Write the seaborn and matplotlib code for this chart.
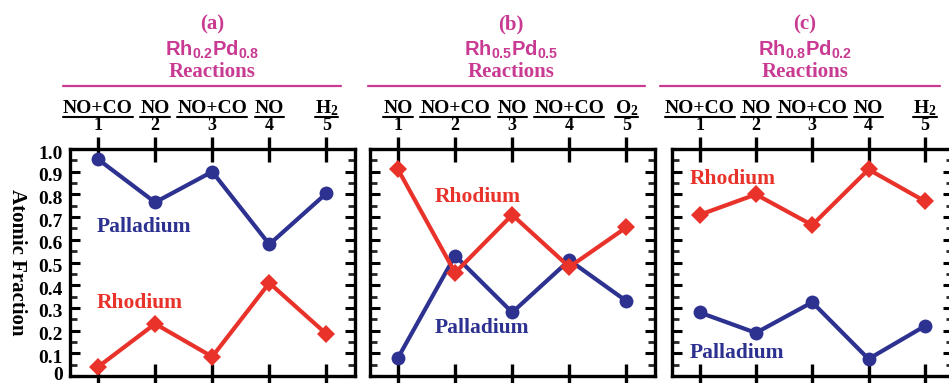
import numpy as np
import pandas as pd
import matplotlib
matplotlib.use("Agg")
import matplotlib.pyplot as plt
import matplotlib.transforms as mtransforms
from matplotlib.lines import Line2D
from matplotlib.ticker import MultipleLocator, FixedLocator, FixedFormatter
import seaborn as sns

# ---------------- data ----------------
steps = [1, 2, 3, 4, 5]
panel_ids = ["(a)", "(b)", "(c)"]
panel_alloys = [r"$\mathbf{Rh_{0.2}Pd_{0.8}}$", r"$\mathbf{Rh_{0.5}Pd_{0.5}}$", r"$\mathbf{Rh_{0.8}Pd_{0.2}}$"]
reactions_a = ["NO+CO", "NO", "NO+CO", "NO", r"$\mathrm{H_2}$"]
reactions_b = ["NO", "NO+CO", "NO", "NO+CO", r"$\mathrm{O_2}$"]
reactions_c = ["NO+CO", "NO", "NO+CO", "NO", r"$\mathrm{H_2}$"]

pd_a = [0.955, 0.765, 0.90, 0.58, 0.805]
rh_a = [0.04, 0.23, 0.085, 0.41, 0.185]
pd_b = [0.08, 0.53, 0.28, 0.51, 0.33]
rh_b = [0.91, 0.455, 0.71, 0.48, 0.655]
pd_c = [0.28, 0.19, 0.325, 0.075, 0.22]
rh_c = [0.71, 0.80, 0.665, 0.91, 0.77]

ytick_vals = [0, 0.1, 0.2, 0.3, 0.4, 0.5, 0.6, 0.7, 0.8, 0.9, 1.0]
ytick_labels = ["0", "0.1", "0.2", "0.3", "0.4", "0.5", "0.6", "0.7", "0.8", "0.9", "1.0"]

# ---------------- style ----------------
sns.set_theme(style="white")
SERIF = ["Liberation Serif", "DejaVu Serif"]
plt.rcParams["font.family"] = SERIF
plt.rcParams["font.serif"] = ["Liberation Serif"]
plt.rcParams["font.weight"] = "bold"
plt.rcParams["mathtext.fontset"] = "custom"
plt.rcParams["mathtext.rm"] = "Liberation Serif:bold"
plt.rcParams["mathtext.bf"] = "Liberation Sans:bold"
plt.rcParams["mathtext.it"] = "Liberation Serif:bold"

MAG = "#c93a92"
RED = "#e8322a"
BLUE = "#2d3190"

W, H = 949, 383
fig = plt.figure(figsize=(W / 100, H / 100), dpi=100)
fig.patch.set_facecolor("white")


def fx(x):
    return x / W


def fy(y):
    return 1 - y / H


# axes boxes in pixels: left, right
boxes = [(70, 355), (370, 655), (672, 953)]
top_px, bot_px = 149, 376
title_cx = [212, 511, 805]
line_ext = [(63, 341), (368, 645), (660, 940)]
labels_pos = [
    # (pd_x, pd_y, rh_x, rh_y) in data coords, left-aligned
    (0.97, 0.655, 0.97, 0.32),
    (1.65, 0.21, 1.65, 0.79),
    (0.83, 0.10, 0.83, 0.87),
]
reaction_sets = [reactions_a, reactions_b, reactions_c]
pd_sets = [pd_a, pd_b, pd_c]
rh_sets = [rh_a, rh_b, rh_c]

reaction_texts = []
axes = []
for i in range(3):
    l, r = boxes[i]
    ax = fig.add_axes([fx(l), fy(bot_px), (r - l) / W, (bot_px - top_px) / H])
    axes.append(ax)
    dfp = pd.DataFrame({"step": steps, "frac": pd_sets[i]})
    dfr = pd.DataFrame({"step": steps, "frac": rh_sets[i]})
    sns.lineplot(data=dfp, x="step", y="frac", ax=ax, color=BLUE, linewidth=3.0,
                 marker="o", markersize=10, markeredgewidth=0, markeredgecolor=BLUE)
    sns.lineplot(data=dfr, x="step", y="frac", ax=ax, color=RED, linewidth=3.0,
                 marker="D", markersize=9, markeredgewidth=0, markeredgecolor=RED)
    ax.set_xlim(0.51, 5.5)
    ax.set_ylim(0, 1.0)
    ax.set_xlabel("")
    ax.set_ylabel("")
    for sp in ax.spines.values():
        sp.set_visible(True)
        sp.set_color("black")
        sp.set_linewidth(2.4)
    # x ticks on top & bottom crossing the spine
    ax.xaxis.set_major_locator(FixedLocator(steps))
    ax.xaxis.set_major_formatter(FixedFormatter([str(s) for s in steps]))
    ax.tick_params(axis="x", which="major", direction="inout", length=18, width=2.4,
                   top=True, bottom=True, labeltop=True, labelbottom=False,
                   labelsize=13, pad=1.5, colors="black")
    # y ticks inward on both sides
    ax.yaxis.set_major_locator(FixedLocator(ytick_vals))
    ax.yaxis.set_minor_locator(MultipleLocator(0.05))
    ax.tick_params(axis="y", which="major", direction="in", length=7, width=2.2,
                   left=True, right=True, labelleft=(i == 0), labelright=False,
                   labelsize=14, pad=5, colors="black")
    ax.tick_params(axis="y", which="minor", direction="in", length=5, width=2.0,
                   left=True, right=True)
    if i == 0:
        ax.set_yticklabels(ytick_labels)
        for lab in ax.get_yticklabels():
            shift = 2 if lab.get_text() == "0" else -3
            off = mtransforms.ScaledTranslation(0, shift / 100, fig.dpi_scale_trans)
            lab.set_transform(lab.get_transform() + off)
            lab.set_fontweight("bold")
            lab.set_family(SERIF)
    for lab in ax.get_xticklabels():
        lab.set_fontweight("bold")
        lab.set_family(SERIF)
    ax.grid(False)
    ax.set_facecolor("white")

    # series labels
    px, py, rx, ry = labels_pos[i]
    ax.text(px, py, "Palladium", color=BLUE, fontsize=15.5, fontweight="bold",
            family=SERIF, ha="left", va="center")
    ax.text(rx, ry, "Rhodium", color=RED, fontsize=15.5, fontweight="bold",
            family=SERIF, ha="left", va="center")

    # titles
    fig.text(fx(title_cx[i]), fy(24), panel_ids[i], color=MAG, fontsize=15,
             fontweight="bold", family=SERIF, ha="center", va="center")
    fig.text(fx(title_cx[i]), fy(50), panel_alloys[i], color=MAG, fontsize=14.5,
             ha="center", va="center")
    fig.text(fx(title_cx[i]), fy(72), "Reactions", color=MAG, fontsize=15,
             fontweight="bold", family=SERIF, ha="center", va="center")
    x0, x1 = line_ext[i]
    fig.add_artist(Line2D([fx(x0), fx(x1)], [fy(86), fy(86)], color=MAG, linewidth=1.6))

    # reaction names above step numbers
    trans = mtransforms.blended_transform_factory(ax.transData, fig.transFigure)
    for s, name in zip(steps, reaction_sets[i]):
        t = ax.text(s, fy(113), name, transform=trans, fontsize=14, fontweight="bold",
                    family=SERIF, ha="center", va="baseline", color="black", clip_on=False)
        reaction_texts.append(t)

fig.text(fx(17), fy(262), "Atomic Fraction", rotation=-90, fontsize=15,
         fontweight="bold", family=SERIF, ha="center", va="center", color="black")

# underline the reaction names
fig.canvas.draw()
renderer = fig.canvas.get_renderer()
for t in reaction_texts:
    bb = t.get_window_extent(renderer)
    fig.add_artist(Line2D([bb.x0 / W, bb.x1 / W], [fy(116.5), fy(116.5)],
                          color="black", linewidth=1.5))

fig.savefig("out.png", dpi=100, facecolor="white")
